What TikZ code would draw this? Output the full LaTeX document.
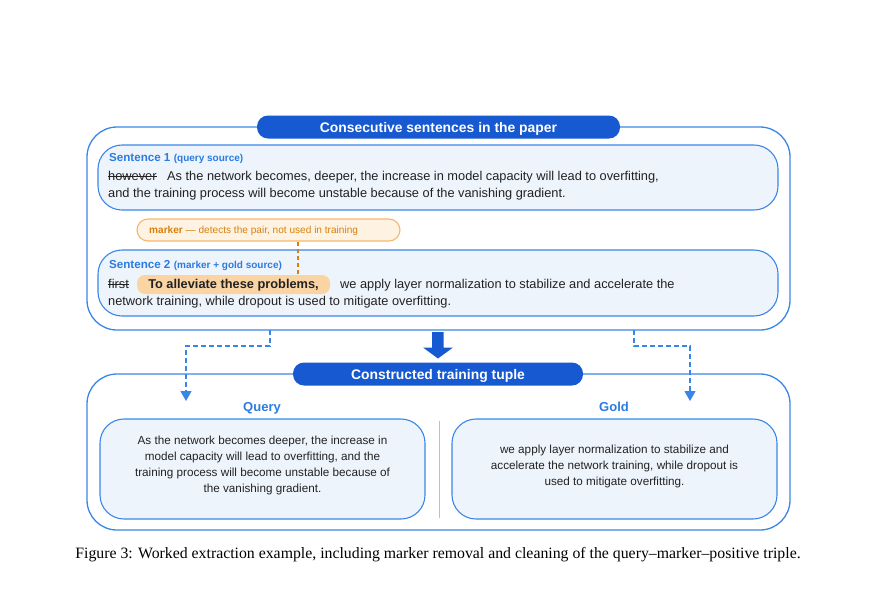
\documentclass[tikz,border=0pt]{standalone}
\usepackage{fontspec}
\setmainfont{Liberation Serif}
\newfontfamily\sans{Liberation Sans}
\usetikzlibrary{arrows.meta}
\definecolor{pillblue}{HTML}{1759D0}
\definecolor{bordblue}{HTML}{3A86E8}
\definecolor{fillblue}{HTML}{EEF4FC}
\definecolor{lblblue}{HTML}{2B7BE0}
\definecolor{orbord}{HTML}{F5B86B}
\definecolor{orfill}{HTML}{FEF3E2}
\definecolor{ortext}{HTML}{D9800E}
\definecolor{hlfill}{HTML}{FAD4A2}
\definecolor{txt}{HTML}{222222}
\tikzset{
  outerbox/.style={draw=bordblue, line width=1.3pt, rounded corners=30pt},
  innerbox/.style={draw=bordblue, line width=1.1pt, fill=fillblue, rounded corners=24pt},
  pill/.style={fill=pillblue, rounded corners=11pt},
  pilltext/.style={text=white, font=\sans\bfseries\fontsize{13.9}{16}\selectfont, inner sep=0pt, anchor=base},
  body/.style={text=txt, font=\sans\fontsize{12.8}{17}\selectfont, inner sep=0pt, anchor=base west},
  lbl/.style={text=lblblue, font=\sans\bfseries\fontsize{11.6}{13}\selectfont, inner sep=0pt, anchor=base west},
  sublbl/.style={text=lblblue, font=\sans\bfseries\fontsize{10}{12}\selectfont, inner sep=0pt, anchor=base west},
  dashconn/.style={draw=bordblue, line width=1.1pt, dash pattern=on 5pt off 3pt, -{Triangle[length=10pt,width=11pt]}},
  ctext/.style={text=txt, font=\sans\fontsize{11.7}{16}\selectfont, align=center, inner sep=0pt},
  collbl/.style={text=lblblue, font=\sans\bfseries\fontsize{13}{15}\selectfont, inner sep=0pt, anchor=base},
}
\begin{document}
\begin{tikzpicture}[x=1pt,y=-1pt]
\useasboundingbox (0,0) rectangle (877,590);
% top outer box
\draw[outerbox] (87,127) rectangle (790,330);
\fill[pill] (257,115.5) rectangle (620,138.5);
\node[pilltext] (t1) at (438.5,132) {Consecutive sentences in the paper};
% sentence 1
\draw[innerbox] (98,145) rectangle (778,210);
\node[lbl] (s1l) at (109,161) {Sentence 1};
\node[sublbl] (s1s) at ([xshift=3pt]s1l.base east) {(query source)};
\node[body] (how) at (108,180) {however};
\draw[txt, line width=0.8pt] ([yshift=4pt]how.base west) -- ([yshift=4pt]how.base east);
\node[body] (s1a) at (167,180) {As the network becomes, deeper, the increase in model capacity will lead to overfitting,};
\node[body] (s1b) at (108,197) {and the training process will become unstable because of the vanishing gradient.};
% marker
\node[draw=orbord, line width=1.1pt, fill=orfill, rounded corners=11pt, minimum width=263pt, minimum height=22pt, inner sep=0pt] (mk) at (268.5,230) {};
\node[text=ortext, font=\sans\fontsize{10.1}{12}\selectfont, inner sep=0pt, anchor=base west] (mkt) at (149,233.5) {\textbf{marker} — detects the pair, not used in training};
% sentence 2
\draw[innerbox] (98,250) rectangle (778,316);
\node[lbl] (s2l) at (109,268) {Sentence 2};
\node[sublbl] (s2s) at ([xshift=3pt]s2l.base east) {(marker + gold source)};
\node[body] (first) at (108,288) {first};
\draw[txt, line width=0.8pt] ([yshift=4pt]first.base west) -- ([yshift=4pt]first.base east);
\fill[hlfill, rounded corners=8pt] (137,275) rectangle (330,294);
\node[text=txt, font=\sans\bfseries\fontsize{12.8}{15}\selectfont, inner sep=0pt, anchor=base] (hl) at (233.5,288.5) {To alleviate these problems,};
\node[body] (s2a) at (340,288) {we apply layer normalization to stabilize and accelerate the};
\node[body] (s2b) at (108,305) {network training, while dropout is used to mitigate overfitting.};
\coordinate (hltop) at (298,275);
\draw[ortext, line width=1.1pt, dash pattern=on 4pt off 3pt] (mk.south -| hltop) -- (hltop);
% big arrow
\fill[pillblue] (432,332) -- (443.5,332) -- (443.5,347.5) -- (453,347.5) -- (438,358.5) -- (423,347.5) -- (432,347.5) -- cycle;
% bottom outer box
\draw[outerbox] (87,374) rectangle (790,530);
\fill[pill] (293,362.5) rectangle (583,385.5);
\node[pilltext] (t2) at (438,379) {Constructed training tuple};
% dashed connectors
\coordinate (dl) at (270,330);
\coordinate (dr) at (634,330);
\coordinate (ql) at (186,401);
\coordinate (gr) at (690,401);
\draw[dashconn] (dl) -- (270,346) -- (186,346) -- (ql);
\draw[dashconn] (dr) -- (634,346) -- (690,346) -- (gr);
% labels
\node[collbl] (qlab) at (262,411) {Query};
\node[collbl] (glab) at (614,411) {Gold};
% query / gold boxes
\draw[innerbox] (100,419) rectangle (425,519);
\draw[innerbox] (452,419) rectangle (777,519);
\draw[gray!50, line width=0.8pt] (439,421) -- (439,518);
\node[ctext] (qt) at (262.5,465.5) {As the network becomes deeper, the increase in\\model capacity will lead to overfitting, and the\\training process will become unstable because of\\the vanishing gradient.};
\node[ctext] (gt) at (614.5,466) {we apply layer normalization to stabilize and\\accelerate the network training, while dropout is\\used to mitigate overfitting.};
% caption
\node[inner sep=0pt, anchor=base, font=\fontsize{15.8}{18}\selectfont] (cap) at (438,558) {Figure 3: Worked extraction example, including marker removal and cleaning of the query–marker–positive triple.};
\end{tikzpicture}
\end{document}
